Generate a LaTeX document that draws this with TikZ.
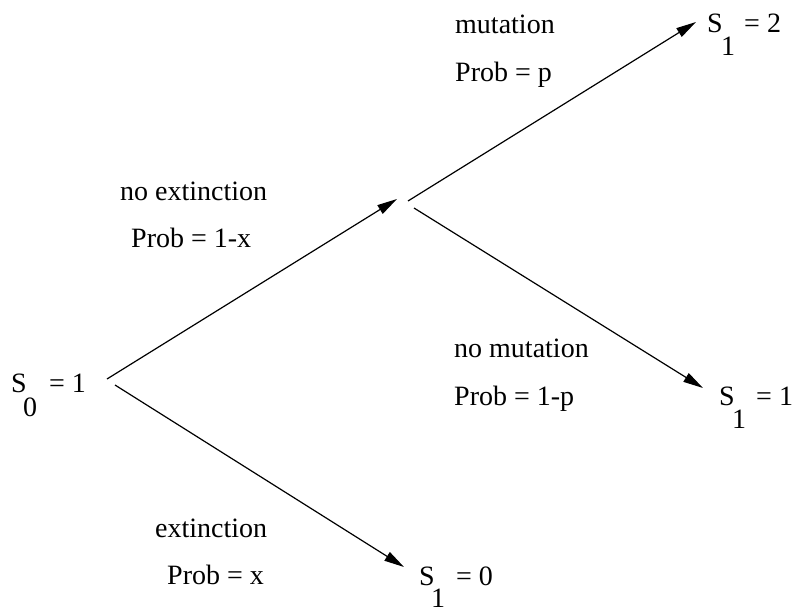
\documentclass[tikz,border=0pt]{standalone}
\usepackage{fontspec}
\setmainfont{Liberation Serif}
\usetikzlibrary{arrows.meta}
\begin{document}
\begin{tikzpicture}[x=1pt,y=-1pt,
  lbl/.style={anchor=base west, inner sep=0pt, font=\fontsize{28}{30}\selectfont},
  conn/.style={line width=1.2pt, -{Triangle[length=20pt,width=10pt]}}]
\useasboundingbox (0,0) rectangle (798,613);
% state S0 = 1
\node[lbl] (s0S) at (11,392) {S};
\node[lbl] (s0i) at (23,416) {0};
\node[lbl] (s0v) at (49,392) {= 1};
% state S1 = 2
\node[lbl] (s2S) at (707,32) {S};
\node[lbl] (s2i) at (721,55) {1};
\node[lbl] (s2v) at (744,32) {= 2};
% state S1 = 1
\node[lbl] (s1S) at (719,405) {S};
\node[lbl] (s1i) at (732,428) {1};
\node[lbl] (s1v) at (756,405) {= 1};
% state S1 = 0
\node[lbl] (sxS) at (419,585) {S};
\node[lbl] (sxi) at (431,607) {1};
\node[lbl] (sxv) at (456,585) {= 0};
% branch labels
\node[lbl] (l1a) at (120,200) {no extinction};
\node[lbl] (l1b) at (131,247) {Prob = 1-x};
\node[lbl] (l2a) at (155,537) {extinction};
\node[lbl] (l2b) at (167,584) {Prob = x};
\node[lbl] (l3a) at (455,33) {mutation};
\node[lbl] (l3b) at (455,81) {Prob = p};
\node[lbl] (l4a) at (454,357) {no mutation};
\node[lbl] (l4b) at (454,405) {Prob = 1-p};
% connector end points
\coordinate (a0) at (107,379);
\coordinate (b0) at (115,385);
\coordinate (m1) at (397,199);
\coordinate (m2) at (408,201);
\coordinate (m3) at (414,208);
\coordinate (t2) at (696,22);
\coordinate (t1) at (703,388);
\coordinate (t0) at (404,567);
\draw[conn] (a0) -- (m1);
\draw[conn] (b0) -- (t0);
\draw[conn] (m2) -- (t2);
\draw[conn] (m3) -- (t1);
\end{tikzpicture}
\end{document}
